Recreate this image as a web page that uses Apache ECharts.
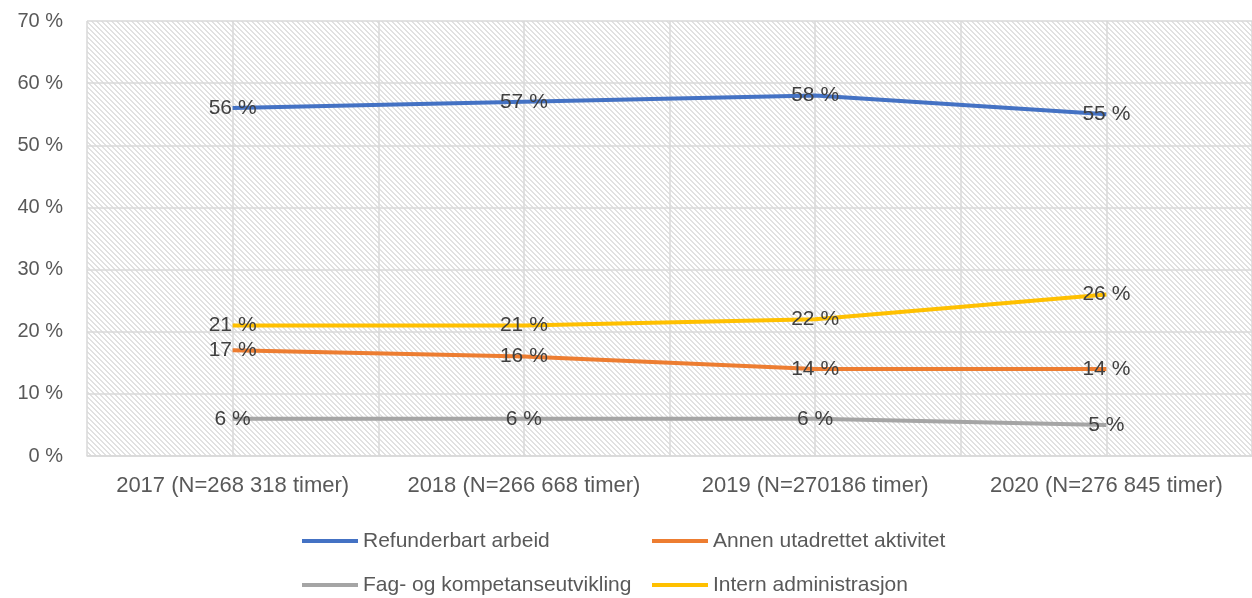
<!DOCTYPE html>
<html>
<head>
<meta charset="utf-8">
<script src="https://cdn.jsdelivr.net/npm/echarts@6/dist/echarts.min.js"></script>
<style>
html,body{margin:0;padding:0;background:#fff;}
#chart{width:1252px;height:598px;}
</style>
</head>
<body>
<div id="chart"></div>
<script>
let years=["2017 (N=268 318 timer)","2018 (N=266 668 timer)","2019 (N=270186 timer)","2020 (N=276 845 timer)"];
let refunderbart=[56,57,58,55];
let annen=[17,16,14,14];
let fag=[6,6,6,5];
let intern=[21,21,22,26];
let yTicks=[0,10,20,30,40,50,60,70];

// hatched background tile
let tile=document.createElement("canvas");
tile.width=5;
tile.height=5;
let tctx=tile.getContext("2d");
tctx.fillStyle="#ffffff";
tctx.fillRect(0,0,5,5);
tctx.fillStyle="#e1e1e1";
for(let y=0;y<5;y++){
	tctx.fillRect(y%5,y,1,1);
	tctx.fillRect((y+1)%5,y,1,1);
}

let font="Liberation Sans";
let grey="#595959";
let gridColor="#d9d9d9";

let line_echart=echarts.init(document.getElementById("chart"));

function lineSeries(name,data,color){
	return {
		name:name,
		type:"line",
		data:data,
		symbol:"circle",
		symbolSize:0,
		showSymbol:true,
		lineStyle:{color:color,width:4},
		itemStyle:{color:color},
		label:{
			show:true,
			position:"inside",
			formatter:"{c} %",
			fontFamily:font,
			fontSize:21,
			color:"#404040",
		},
		z:3,
	};
}

function legendColumn(left,names){
	return {
		orient:"vertical",
		left:left,
		top:530,
		height:80,
		padding:0,
		icon:"rect",
		itemWidth:56,
		itemHeight:4,
		itemGap:22,
		data:names,
		textStyle:{fontFamily:font,fontSize:21,lineHeight:22,color:grey},
	};
}

line_echart.setOption({
	animation:false,
	grid:{
		left:87,
		top:21,
		width:1173,
		height:435,
		show:true,
		borderWidth:0,
		backgroundColor:{image:tile,repeat:"repeat"},
	},
	legend:[
		legendColumn(302,["Refunderbart arbeid","Fag- og kompetanseutvikling"]),
		legendColumn(652,["Annen utadrettet aktivitet","Intern administrasjon"]),
	],
	xAxis:[
		{
			type:"category",
			data:years,
			boundaryGap:true,
			axisLine:{show:true,lineStyle:{color:gridColor,width:1.5}},
			axisTick:{show:false},
			axisLabel:{interval:0,fontFamily:font,fontSize:22,color:grey,margin:19},
			splitLine:{show:true,lineStyle:{color:gridColor,width:1.5}},
		},
		{
			type:"category",
			data:years,
			position:"top",
			boundaryGap:true,
			axisLine:{show:false},
			axisTick:{show:false},
			axisLabel:{show:false},
			splitLine:{show:true,alignWithLabel:true,lineStyle:{color:gridColor,width:1.5}},
		},
	],
	yAxis:{
		type:"value",
		min:yTicks[0],
		max:yTicks[yTicks.length-1],
		interval:10,
		axisLine:{show:false},
		axisTick:{show:false},
		axisLabel:{formatter:"{value} %",fontFamily:font,fontSize:20,color:grey,margin:24},
		splitLine:{show:true,lineStyle:{color:gridColor,width:1.5}},
	},
	series:[
		lineSeries("Refunderbart arbeid",refunderbart,"#4472c4"),
		lineSeries("Annen utadrettet aktivitet",annen,"#ed7d31"),
		lineSeries("Fag- og kompetanseutvikling",fag,"#a5a5a5"),
		lineSeries("Intern administrasjon",intern,"#ffc000"),
	],
});
</script>
</body>
</html>
